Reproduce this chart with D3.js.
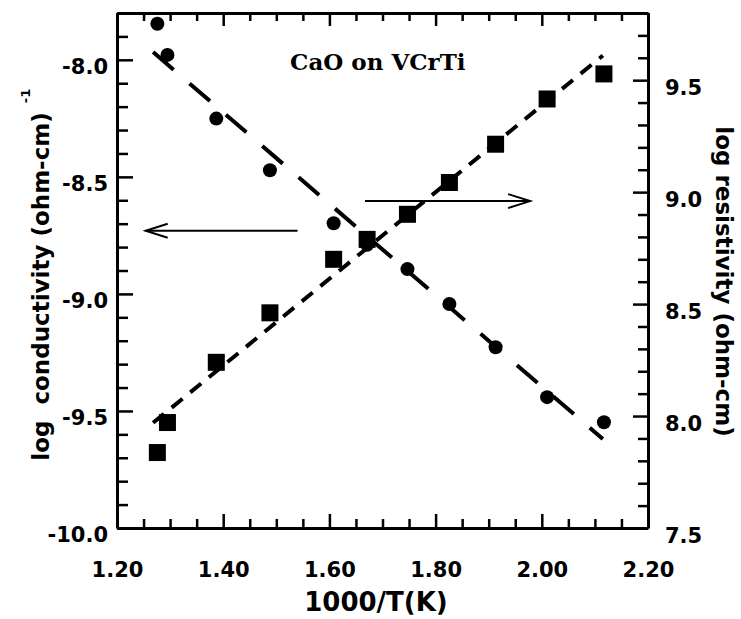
<!DOCTYPE html>
<html>
<head>
<meta charset="utf-8">
<script src="https://cdn.jsdelivr.net/npm/d3@7/dist/d3.min.js"></script>
<style>
  html, body { margin: 0; padding: 0; background: #fff; }
  svg { display: block; }
  text { font-family: "DejaVu Sans", sans-serif; font-weight: bold; fill: #000; }
  text.serif { font-family: "DejaVu Serif", serif; }
</style>
</head>
<body>
<svg id="chart" width="741" height="619"></svg>
<script>
// ---------------- data ----------------
const invT = [1.276, 1.295, 1.387, 1.488, 1.608, 1.671, 1.747, 1.826, 1.913, 2.010, 2.117];
const logConductivity = [-7.846, -7.979, -8.251, -8.472, -8.698, -8.790, -8.894, -9.043, -9.228, -9.441, -9.548];
const logResistivity  = [7.837, 7.971, 8.240, 8.461, 8.700, 8.789, 8.901, 9.043, 9.214, 9.416, 9.528];

// fitted (dashed) lines: endpoints
const fitX = [1.268, 2.115];
const fitConductivity = [-7.967, -9.620];
const fitResistivity  = [7.970, 9.610];

const xTickValues = [1.20, 1.40, 1.60, 1.80, 2.00, 2.20];
const xTickLabels = ["1.20", "1.40", "1.60", "1.80", "2.00", "2.20"];
const leftTickValues = [-10.0, -9.5, -9.0, -8.5, -8.0];
const leftTickLabels = ["-10.0", "-9.5", "-9.0", "-8.5", "-8.0"];
const rightTickValues = [7.5, 8.0, 8.5, 9.0, 9.5];
const rightTickLabels = ["7.5", "8.0", "8.5", "9.0", "9.5"];

const xTitle = "1000/T(K)";
const leftTitle = "log  conductivity (ohm-cm)";
const leftTitleSup = "-1";
const rightTitle = "log resistivity (ohm-cm)";
const annotation = "CaO on VCrTi";

// arrows: x from, x to, y value
const arrowLeft  = {x1: 1.540, x2: 1.254, y: -8.73};
const arrowRight = {x1: 1.667, x2: 1.978, y: 8.96};
// annotation anchor (data coords, left axis)
const annotationPos = {x: 1.526, y: -8.045};

// ---------------- layout ----------------
const L = 117, R = 648, T = 13, B = 528;
const svg = d3.select("#chart");

const x  = d3.scaleLinear().domain([1.2, 2.2]).range([L, R]);
const yL = d3.scaleLinear().domain([-10, -7.8]).range([B, T]);
const yR = d3.scaleLinear().domain([7.5, 9.8]).range([B, T]);

const xMinor = d3.range(0, 21).map(i => +(1.2 + i * 0.05).toFixed(2)).filter(v => !xTickValues.some(t => Math.abs(t - v) < 1e-6));
const lMinor = d3.range(0, 23).map(i => +(-10 + i * 0.1).toFixed(1)).filter(v => !leftTickValues.some(t => Math.abs(t - v) < 1e-6));
const rMinor = d3.range(0, 24).map(i => +(7.5 + i * 0.1).toFixed(1)).filter(v => !rightTickValues.some(t => Math.abs(t - v) < 1e-6));

function styleAxis(g, w) {
  g.selectAll(".domain").attr("stroke", "#000").attr("stroke-width", 3);
  g.selectAll(".tick line").attr("stroke", "#000").attr("stroke-width", w);
}
function styleLabels(g) {
  g.selectAll(".tick text").attr("font-size", 21).attr("font-family", "DejaVu Sans")
    .attr("font-weight", "bold").attr("fill", "#000");
}

// bottom axis (major with labels)
const gB = svg.append("g").attr("transform", `translate(0,${B})`)
  .call(d3.axisBottom(x).tickValues(xTickValues).tickSizeInner(-14).tickSizeOuter(0).tickPadding(34)
    .tickFormat((d, i) => xTickLabels[i]));
styleAxis(gB, 2.5); styleLabels(gB);
svg.append("g").attr("transform", `translate(0,${B})`)
  .call(d3.axisBottom(x).tickValues(xMinor).tickSizeInner(-9).tickSizeOuter(0).tickFormat(""))
  .call(g => { g.select(".domain").remove(); styleAxis(g, 2.5); });

// top axis (ticks only)
const gT = svg.append("g").attr("transform", `translate(0,${T})`)
  .call(d3.axisTop(x).tickValues(xTickValues).tickSizeInner(-13).tickSizeOuter(0).tickFormat(""));
styleAxis(gT, 2.5);
svg.append("g").attr("transform", `translate(0,${T})`)
  .call(d3.axisTop(x).tickValues(xMinor).tickSizeInner(-8).tickSizeOuter(0).tickFormat(""))
  .call(g => { g.select(".domain").remove(); styleAxis(g, 2.5); });

// left axis
const gL = svg.append("g").attr("transform", `translate(${L},0)`)
  .call(d3.axisLeft(yL).tickValues(leftTickValues).tickSizeInner(-16).tickSizeOuter(0).tickPadding(9)
    .tickFormat((d, i) => leftTickLabels[i]));
styleAxis(gL, 2.5); styleLabels(gL);
gL.selectAll(".tick text").attr("transform", "translate(0,7)");
svg.append("g").attr("transform", `translate(${L},0)`)
  .call(d3.axisLeft(yL).tickValues(lMinor).tickSizeInner(-11).tickSizeOuter(0).tickFormat(""))
  .call(g => { g.select(".domain").remove(); styleAxis(g, 2.5); });

// right axis
const gR = svg.append("g").attr("transform", `translate(${R},0)`)
  .call(d3.axisRight(yR).tickValues(rightTickValues).tickSizeInner(-15).tickSizeOuter(0).tickPadding(17)
    .tickFormat((d, i) => rightTickLabels[i]));
styleAxis(gR, 2.5); styleLabels(gR);
gR.selectAll(".tick text").attr("transform", "translate(0,8)");
svg.append("g").attr("transform", `translate(${R},0)`)
  .call(d3.axisRight(yR).tickValues(rMinor).tickSizeInner(-10).tickSizeOuter(0).tickFormat(""))
  .call(g => { g.select(".domain").remove(); styleAxis(g, 2.5); });

// fit lines
const fitData = fitX.map((v, i) => ({x: v, c: fitConductivity[i], r: fitResistivity[i]}));
svg.append("path").datum(fitData)
  .attr("d", d3.line().x(d => x(d.x)).y(d => yL(d.c)))
  .attr("fill", "none").attr("stroke", "#000").attr("stroke-width", 4).attr("stroke-dasharray", "27,21");
svg.append("path").datum(fitData)
  .attr("d", d3.line().x(d => x(d.x)).y(d => yR(d.r)))
  .attr("fill", "none").attr("stroke", "#000").attr("stroke-width", 4).attr("stroke-dasharray", "14,10");

// points
const pts = invT.map((v, i) => ({x: v, c: logConductivity[i], r: logResistivity[i]}));
svg.append("g").selectAll("circle").data(pts).join("circle")
  .attr("cx", d => x(d.x)).attr("cy", d => yL(d.c)).attr("r", 7).attr("fill", "#000");
const S = 17;
svg.append("g").selectAll("rect").data(pts).join("rect")
  .attr("x", d => x(d.x) - S / 2).attr("y", d => yR(d.r) - S / 2).attr("width", S).attr("height", S).attr("fill", "#000");

// arrows
function arrow(x1, x2, y) {
  const dir = Math.sign(x2 - x1);
  const hl = 22, hw = 7;
  svg.append("line").attr("x1", x1).attr("x2", x2).attr("y1", y).attr("y2", y)
    .attr("stroke", "#000").attr("stroke-width", 2);
  svg.append("path").attr("d", `M${x2 - dir * hl},${y - hw}L${x2},${y}L${x2 - dir * hl},${y + hw}`)
    .attr("fill", "none").attr("stroke", "#000").attr("stroke-width", 2);
}
arrow(x(arrowLeft.x1), x(arrowLeft.x2), yL(arrowLeft.y));
arrow(x(arrowRight.x1), x(arrowRight.x2), yR(arrowRight.y));

// annotation
svg.append("text").attr("class", "serif")
  .attr("x", x(annotationPos.x)).attr("y", yL(annotationPos.y))
  .style("font-size", "23px")
  .text(annotation);

// axis titles
svg.append("text").attr("x", 376).attr("y", 611).attr("text-anchor", "middle")
  .attr("font-size", 26).text(xTitle);

svg.append("text").attr("transform", "translate(49,286.5) rotate(-90)").attr("text-anchor", "middle")
  .attr("font-size", 23).style("white-space", "pre").text(leftTitle);
svg.append("text").attr("transform", "translate(30,96) rotate(-90)").attr("text-anchor", "middle")
  .attr("font-size", 13).text(leftTitleSup);

svg.append("text").attr("transform", "translate(716,281.5) rotate(90)").attr("text-anchor", "middle")
  .attr("font-size", 23).text(rightTitle);
</script>
</body>
</html>
